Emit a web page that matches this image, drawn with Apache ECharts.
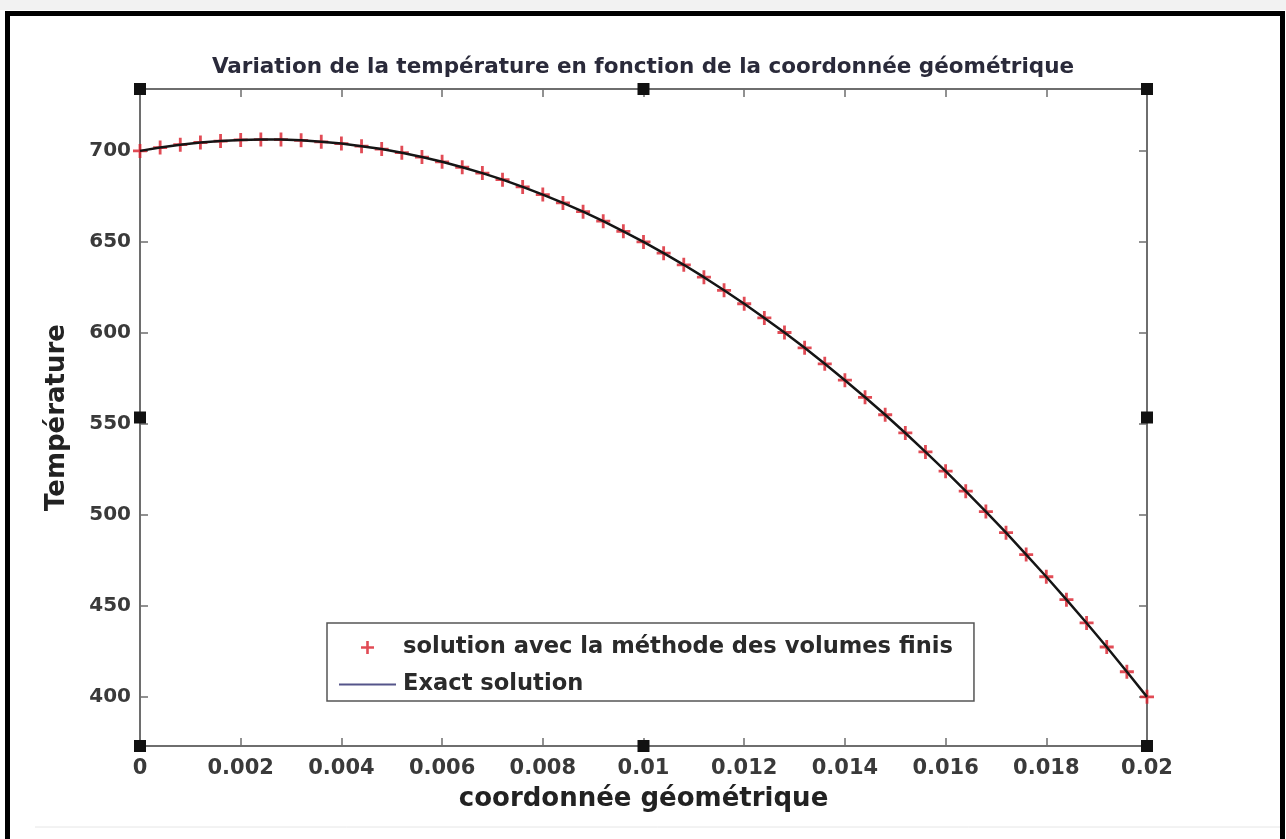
<!DOCTYPE html>
<html>
<head>
<meta charset="utf-8">
<script src="https://cdn.jsdelivr.net/npm/echarts@6/dist/echarts.min.js"></script>
<style>
html,body{margin:0;padding:0;background:#fff;}
#chart{width:1286px;height:839px;}
</style>
</head>
<body>
<div id="chart"></div>
<script>
// ---- data ----
const titleText = 'Variation de la température en fonction de la coordonnée géométrique';
const xName = 'coordonnée géométrique';
const yName = 'Température';
const seriesNames = ['solution avec la méthode des volumes finis', 'Exact solution'];
const xPositions = [0,0.0004,0.0008,0.0012,0.0016,0.002,0.0024,0.0028,0.0032,0.0036,0.004,
  0.0044,0.0048,0.0052,0.0056,0.006,0.0064,0.0068,0.0072,0.0076,0.008,
  0.0084,0.0088,0.0092,0.0096,0.01,0.0104,0.0108,0.0112,0.0116,0.012,
  0.0124,0.0128,0.0132,0.0136,0.014,0.0144,0.0148,0.0152,0.0156,0.016,
  0.0164,0.0168,0.0172,0.0176,0.018,0.0184,0.0188,0.0192,0.0196,0.02];
const fvmValues = [700,701.8,703.4,704.6,705.4,706,706.2,706.2,705.8,705,704,
  702.6,701,699,696.6,694,691,687.8,684.2,680.2,676,
  671.4,666.6,661.4,655.8,650,643.8,637.4,630.6,623.4,616,
  608.2,600.2,591.8,583,574,564.6,555,545,534.6,524,
  513,501.8,490.2,478.2,466,453.4,440.6,427.4,413.8,400];
const exactValues = [700,701.8,703.4,704.6,705.4,706,706.2,706.2,705.8,705,704,
  702.6,701,699,696.6,694,691,687.8,684.2,680.2,676,
  671.4,666.6,661.4,655.8,650,643.8,637.4,630.6,623.4,616,
  608.2,600.2,591.8,583,574,564.6,555,545,534.6,524,
  513,501.8,490.2,478.2,466,453.4,440.6,427.4,413.8,400];
const xTicks = [0,0.002,0.004,0.006,0.008,0.01,0.012,0.014,0.016,0.018,0.02];
const yTicks = [400,450,500,550,600,650,700];
const xRange = [0, 0.02];
const yRange = [373, 734];

// ---- chart ----
const FONT = 'DejaVu Sans';
const chart = echarts.init(document.getElementById('chart'), null, {renderer:'canvas'});
const plusPath = 'path://M4,0H6V4H10V6H6V10H4V6H0V4H4Z';
const fmt = v => String(+Number(v).toFixed(4));
const axisLineStyle = {color:'#6e6e6e', width:2};
const tickStyle = {color:'#6e6e6e', width:1.5};

function xAxisDef(pos, showLabels){
  return {
    type:'value', position:pos, min:xRange[0], max:xRange[1],
    name: showLabels ? xName : '', nameLocation:'middle', nameGap:40,
    nameTextStyle:{fontFamily:FONT, fontWeight:'bold', fontSize:26, color:'#222'},
    axisLine:{show:true, onZero:false, lineStyle:axisLineStyle},
    axisTick:{show:true, inside:true, length:8, lineStyle:tickStyle, customValues:xTicks},
    axisLabel:{show:showLabels, customValues:xTicks, formatter:fmt, margin:12,
      fontFamily:FONT, fontWeight:'bold', fontSize:21, color:'#3a3a3a'},
    splitLine:{show:false}
  };
}
function yAxisDef(pos, showLabels){
  return {
    type:'value', position:pos, min:yRange[0], max:yRange[1],
    name: showLabels ? yName : '', nameLocation:'middle', nameGap:70,
    nameTextStyle:{fontFamily:FONT, fontWeight:'bold', fontSize:26, color:'#222'},
    axisLine:{show:true, onZero:false, lineStyle:axisLineStyle},
    axisTick:{show:true, inside:true, length:8, lineStyle:tickStyle, customValues:yTicks},
    axisLabel:{show:showLabels, customValues:yTicks, margin:9,
      fontFamily:FONT, fontWeight:'bold', fontSize:20, color:'#3a3a3a'},
    splitLine:{show:false}
  };
}

const fvmData = xPositions.map((x,i)=>[x, fvmValues[i]]);
const exactData = xPositions.map((x,i)=>[x, exactValues[i]]);

const option = {
  backgroundColor:'#ffffff',
  animation:false,
  title:{
    text:titleText, left:'center', top:51,
    textStyle:{fontFamily:FONT, fontWeight:'bold', fontSize:21.5, color:'#2a2a3a'}
  },
  grid:{left:140, right:139, top:89, bottom:93, containLabel:false},
  xAxis:[xAxisDef('bottom', true), xAxisDef('top', false)],
  yAxis:[yAxisDef('left', true), yAxisDef('right', false)],
  legend:{
    orient:'vertical', left:327, top:623,
    backgroundColor:'#fff', borderColor:'#555', borderWidth:1.5,
    padding:[13,21,5,11], itemGap:14, itemWidth:57, itemHeight:13,
    textStyle:{fontFamily:FONT, fontWeight:'bold', fontSize:22.6, color:'#2a2a2a', padding:[0,0,0,2]},
    data:[
      {name:seriesNames[0]},
      {name:seriesNames[1], lineStyle:{color:'#55558a', width:2}, itemStyle:{opacity:0}}
    ]
  },
  series:[
    {
      name:seriesNames[0], type:'scatter', data:fvmData,
      symbol:plusPath, symbolSize:14, symbolKeepAspect:true,
      itemStyle:{color:'#d91e2a'}, z:2
    },
    {
      name:seriesNames[1], type:'line', data:exactData,
      symbol:'none', showSymbol:false,
      lineStyle:{color:'#151515', width:2.5}, itemStyle:{color:'#151515'}, z:3
    }
  ]
};
chart.setOption(option);

// frame and selection handles (decoration)
const p00 = chart.convertToPixel({gridIndex:0}, [xRange[0], yRange[0]]);
const p11 = chart.convertToPixel({gridIndex:0}, [xRange[1], yRange[1]]);
const xs = [p00[0], (p00[0]+p11[0])/2, p11[0]];
const ys = [p11[1], (p00[1]+p11[1])/2, p00[1]];
const handles = [];
for (let i=0;i<3;i++) for (let j=0;j<3;j++){
  if (i===1 && j===1) continue;
  handles.push({type:'rect', shape:{x:xs[i]-6, y:ys[j]-6, width:12, height:12},
    style:{fill:'#111'}, z:100});
}
chart.setOption({graphic:[
  {type:'rect', shape:{x:0,y:0,width:1286,height:10}, style:{fill:'#f2f2f2'}, z:90},
  {type:'rect', shape:{x:7.5,y:13.5,width:1275,height:900}, style:{fill:'none', stroke:'#000', lineWidth:5}, z:90},
  {type:'line', shape:{x1:35,y1:827,x2:1280,y2:827}, style:{stroke:'#e6e6e6', lineWidth:1}, z:90}
].concat(handles)});
</script>
</body>
</html>
